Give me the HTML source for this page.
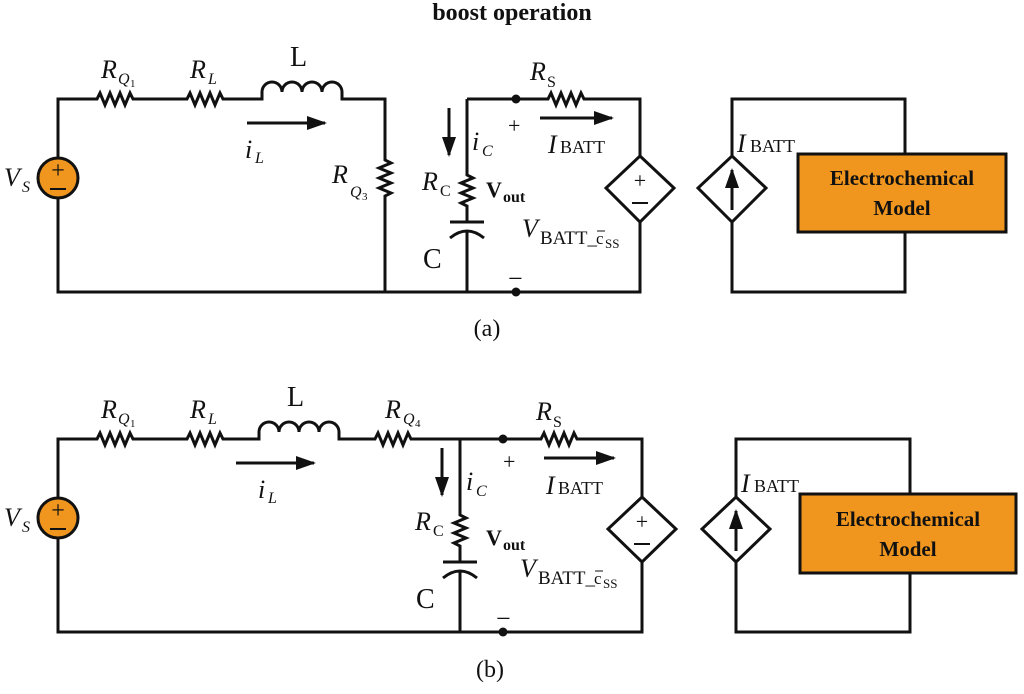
<!DOCTYPE html>
<html><head><meta charset="utf-8"><style>
body{margin:0;background:#fff}
svg{display:block}
text{font-family:"Liberation Serif",serif;fill:#111}
.w{stroke:#111;stroke-width:3;fill:none}
.it{font-style:italic}
</style></head><body>
<svg width="1024" height="694" viewBox="0 0 1024 694">
<defs>
<marker id="ah" markerWidth="20" markerHeight="14" refX="18" refY="7" orient="auto" markerUnits="userSpaceOnUse"><path d="M0,0 L20,7 L0,14 Z" fill="#111"/></marker>
</defs>
<text x="512" y="20" text-anchor="middle" font-weight="bold" font-size="24">boost operation</text>

<!-- ===== (a) ===== -->
<g>
<path class="w" d="M58,158 V99 H97 l3,-6 l5,12 l5,-12 l5,12 l5,-12 l5,12 l5,-12 l3,6 H187 l3,-6 l5,12 l5,-12 l5,12 l5,-12 l5,12 l5,-12 l3,6 H262 V92 a10,10 0 0 1 20,0 a10,10 0 0 1 20,0 a10,10 0 0 1 20,0 a10,10 0 0 1 20,0 V99 H385 V160 l6,3 l-12,5 l12,5 l-12,5 l12,5 l-12,5 l12,5 l-6,3 V292 H58 V198"/>
<circle cx="58" cy="178" r="20" fill="#f0961e" stroke="#111" stroke-width="3"/>
<text x="58" y="178" text-anchor="middle" font-size="24">+</text>
<line x1="50" y1="189" x2="66" y2="189" stroke="#111" stroke-width="2"/>
<text x="4" y="186" font-size="26" class="it">V</text><text x="22" y="192" font-size="16" class="it">S</text>
<text x="101" y="78" font-size="26" class="it">R</text><text x="118" y="84" font-size="16" class="it">Q</text><text x="130" y="87" font-size="11">1</text>
<text x="190" y="78" font-size="26" class="it">R</text><text x="208" y="84" font-size="16" class="it">L</text>
<text x="290" y="66" font-size="28">L</text>
<line x1="247" y1="123" x2="325" y2="123" stroke="#111" stroke-width="3" marker-end="url(#ah)"/>
<text x="245" y="158" font-size="26" class="it">i</text><text x="255" y="163" font-size="16" class="it">L</text>
<text x="332" y="183" font-size="26" class="it">R</text><text x="350" y="197" font-size="16" class="it">Q</text><text x="362" y="200" font-size="11">3</text>

<path class="w" d="M385,292 H640 V222 M467,292 V231 M467,99 V175 l6,3 l-12,5 l12,5 l-12,5 l12,5 l-12,5 l6,3 V222 M467,99 H548 l3,-6 l5,12 l5,-12 l5,12 l5,-12 l5,12 l5,-12 l3,6 H640 V156"/>
<line x1="450" y1="222" x2="484" y2="222" stroke="#111" stroke-width="3"/>
<path class="w" d="M450,238 Q467,224 484,238"/>
<circle cx="516" cy="99" r="4.5" fill="#111"/><circle cx="516" cy="292" r="4.5" fill="#111"/>
<line x1="449" y1="108" x2="449" y2="155" stroke="#111" stroke-width="3" marker-end="url(#ah)"/>
<text x="472" y="150" font-size="26" class="it">i</text><text x="482" y="156" font-size="16" class="it">C</text>
<text x="422" y="190" font-size="26" class="it">R</text><text x="440" y="196" font-size="16">C</text>
<text x="486" y="197" font-size="22" font-weight="bold">V</text><text x="503" y="202" font-size="16" font-weight="bold">out</text>
<text x="423" y="268" font-size="28">C</text>
<text x="508" y="133" font-size="22">+</text>
<text x="508" y="287" font-size="26">−</text>
<text x="530" y="80" font-size="26" class="it">R</text><text x="547" y="87" font-size="16">S</text>
<line x1="540" y1="118" x2="612" y2="118" stroke="#111" stroke-width="3" marker-end="url(#ah)"/>
<text x="548" y="153" font-size="26" class="it">I</text><text x="560" y="153" font-size="18">BATT</text>
<path d="M640,156 L674,188 L640,222 L606,188 Z" fill="#fff" stroke="#111" stroke-width="3"/>
<text x="640" y="188" text-anchor="middle" font-size="22">+</text>
<line x1="632" y1="203" x2="648" y2="203" stroke="#111" stroke-width="2"/>
<text x="522" y="237" font-size="26" class="it">V</text><text x="540" y="244" font-size="19">BATT_</text><text x="596" y="244" font-size="17">c</text><line x1="597" y1="231" x2="605" y2="231" stroke="#111" stroke-width="1"/><text x="605" y="248" font-size="13">SS</text>

<path class="w" d="M732,156 V99 H905 V292 H732 V222"/>
<path d="M732,156 L766,188 L732,222 L698,188 Z" fill="#fff" stroke="#111" stroke-width="3"/>
<line x1="732" y1="210" x2="732" y2="170" stroke="#111" stroke-width="3" marker-end="url(#ah)"/>
<text x="737" y="152" font-size="26" class="it">I</text><text x="750" y="152" font-size="18">BATT</text>
<rect x="798" y="154" width="208" height="78" fill="#f0961e" stroke="#111" stroke-width="3"/>
<text x="902" y="185" text-anchor="middle" font-size="21" font-weight="bold">Electrochemical</text>
<text x="902" y="215" text-anchor="middle" font-size="21" font-weight="bold">Model</text>
<text x="487" y="336" text-anchor="middle" font-size="24">(a)</text>
</g>

<!-- ===== (b) ===== -->
<g>
<path class="w" d="M58,498 V439 H97 l3,-6 l5,12 l5,-12 l5,12 l5,-12 l5,12 l5,-12 l3,6 H187 l3,-6 l5,12 l5,-12 l5,12 l5,-12 l5,12 l5,-12 l3,6 H259 V432 a10,10 0 0 1 20,0 a10,10 0 0 1 20,0 a10,10 0 0 1 20,0 a10,10 0 0 1 20,0 V439 H375 l3,-6 l5,12 l5,-12 l5,12 l5,-12 l5,12 l5,-12 l3,6 H541 l3,-6 l5,12 l5,-12 l5,12 l5,-12 l5,12 l5,-12 l3,6 H642 V497 M58,538 V632 H642 V562"/>
<circle cx="58" cy="518" r="20" fill="#f0961e" stroke="#111" stroke-width="3"/>
<text x="58" y="518" text-anchor="middle" font-size="24">+</text>
<line x1="50" y1="529" x2="66" y2="529" stroke="#111" stroke-width="2"/>
<text x="4" y="526" font-size="26" class="it">V</text><text x="22" y="532" font-size="16" class="it">S</text>
<text x="101" y="418" font-size="26" class="it">R</text><text x="118" y="424" font-size="16" class="it">Q</text><text x="130" y="427" font-size="11">1</text>
<text x="190" y="418" font-size="26" class="it">R</text><text x="208" y="424" font-size="16" class="it">L</text>
<text x="287" y="406" font-size="28">L</text>
<text x="385" y="418" font-size="26" class="it">R</text><text x="403" y="424" font-size="16" class="it">Q</text><text x="415" y="427" font-size="11">4</text>
<line x1="236" y1="463" x2="314" y2="463" stroke="#111" stroke-width="3" marker-end="url(#ah)"/>
<text x="258" y="498" font-size="26" class="it">i</text><text x="268" y="503" font-size="16" class="it">L</text>

<path class="w" d="M460,632 V571 M460,439 V515 l6,3 l-12,5 l12,5 l-12,5 l12,5 l-12,5 l6,3 V562"/>
<line x1="443" y1="562" x2="477" y2="562" stroke="#111" stroke-width="3"/>
<path class="w" d="M443,578 Q460,564 477,578"/>
<circle cx="503" cy="439" r="4.5" fill="#111"/><circle cx="503" cy="632" r="4.5" fill="#111"/>
<line x1="442" y1="448" x2="442" y2="495" stroke="#111" stroke-width="3" marker-end="url(#ah)"/>
<text x="466" y="490" font-size="26" class="it">i</text><text x="476" y="496" font-size="16" class="it">C</text>
<text x="415" y="530" font-size="26" class="it">R</text><text x="433" y="536" font-size="16">C</text>
<text x="486" y="545" font-size="22" font-weight="bold">V</text><text x="503" y="550" font-size="16" font-weight="bold">out</text>
<text x="416" y="608" font-size="28">C</text>
<text x="503" y="469" font-size="22">+</text>
<text x="496" y="627" font-size="26">−</text>
<text x="536" y="420" font-size="26" class="it">R</text><text x="553" y="427" font-size="16">S</text>
<line x1="544" y1="458" x2="614" y2="458" stroke="#111" stroke-width="3" marker-end="url(#ah)"/>
<text x="546" y="494" font-size="26" class="it">I</text><text x="558" y="494" font-size="18">BATT</text>
<path d="M642,497 L676,529 L642,562 L608,529 Z" fill="#fff" stroke="#111" stroke-width="3"/>
<text x="642" y="529" text-anchor="middle" font-size="22">+</text>
<line x1="634" y1="544" x2="650" y2="544" stroke="#111" stroke-width="2"/>
<text x="520" y="577" font-size="26" class="it">V</text><text x="538" y="584" font-size="19">BATT_</text><text x="594" y="584" font-size="17">c</text><line x1="595" y1="571" x2="603" y2="571" stroke="#111" stroke-width="1"/><text x="603" y="588" font-size="13">SS</text>

<path class="w" d="M736,497 V439 H910 V632 H736 V562"/>
<path d="M736,497 L770,529 L736,562 L702,529 Z" fill="#fff" stroke="#111" stroke-width="3"/>
<line x1="736" y1="551" x2="736" y2="511" stroke="#111" stroke-width="3" marker-end="url(#ah)"/>
<text x="741" y="492" font-size="26" class="it">I</text><text x="754" y="492" font-size="18">BATT</text>
<rect x="800" y="494" width="216" height="79" fill="#f0961e" stroke="#111" stroke-width="3"/>
<text x="908" y="526" text-anchor="middle" font-size="21" font-weight="bold">Electrochemical</text>
<text x="908" y="556" text-anchor="middle" font-size="21" font-weight="bold">Model</text>
<text x="490" y="677" text-anchor="middle" font-size="24">(b)</text>
</g>
</svg>
</body></html>
